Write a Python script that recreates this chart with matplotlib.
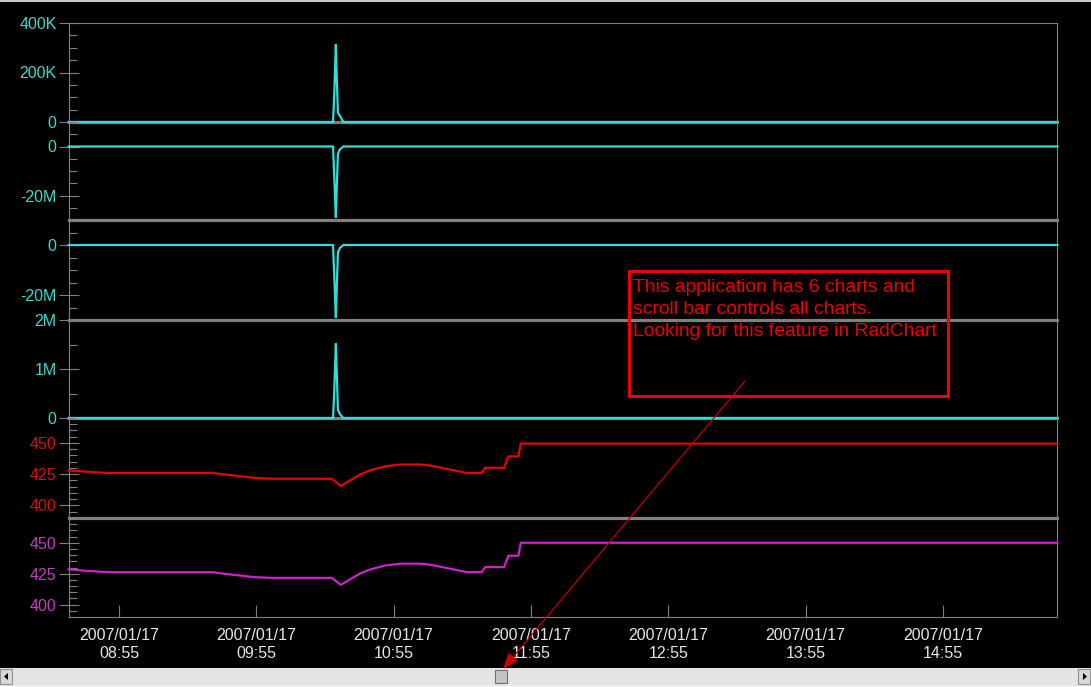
import matplotlib
matplotlib.use("Agg")
import matplotlib.pyplot as plt
import matplotlib.dates as mdates
import matplotlib.ticker as mticker
from matplotlib.patches import Rectangle, FancyArrowPatch, Polygon
from matplotlib.lines import Line2D
from matplotlib.transforms import Affine2D
import pandas as pd

plt.rcParams['font.family'] = ['Liberation Sans', 'DejaVu Sans']

# ---------------- data ----------------
DAY = "2007-01-17 "
x_start = "08:33:09"
x_end = "15:44:50"

spike_times = ["08:33:00", "10:28:30", "10:29:00", "10:29:45", "10:30:10", "10:30:40",
               "10:31:30", "10:33:00", "15:45:00"]
p1_values = [0, 0, 100000, 315000, 170000, 36000, 25000, 0, 0]
p2_values = [0, 0, -11e6, -29.2e6, -16e6, -3e6, -1.2e6, 0, 0]
p3_values = [0, 0, -11e6, -29.2e6, -16e6, -3e6, -1.2e6, 0, 0]
p4_values = [0, 0, 0.5e6, 1.52e6, 0.9e6, 0.16e6, 0.08e6, 0, 0]

trend_times = ["08:33:00", "08:40:00", "08:50:00", "09:36:00", "09:41:00", "09:48:00",
               "09:54:00", "10:02:00", "10:27:57", "10:31:53", "10:33:46", "10:37:24",
               "10:40:30", "10:44:41", "10:51:14", "10:57:48", "11:06:32", "11:10:55",
               "11:26:56", "11:33:30", "11:34:56", "11:43:15", "11:45:08", "11:49:30",
               "11:50:32", "15:45:00"]
red_values = [428.1, 427.1, 426.0, 426.0, 424.8, 423.4, 422.1, 421.4,
              421.4, 415.6, 417.7, 421.6, 425.0, 428.1, 431.3,
              432.8, 432.8, 432.0, 426.0, 426.0, 430.2,
              430.2, 439.3, 439.3, 449.5, 449.5]
magenta_values = [428.6, 427.4, 426.2, 426.2, 424.9, 423.5, 422.2, 421.6,
                  421.6, 416.0, 418.0, 422.0, 425.3, 428.4, 431.6,
                  433.1, 433.1, 432.3, 426.3, 426.3, 430.3,
                  430.3, 439.5, 439.5, 450.0, 450.0]

tick_minute = 55
date_fmt = "%Y/%m/%d\n%H:%M"
annotation_lines = ["This application has 6 charts and",
                    "scroll bar controls all charts.",
                    "Looking for this feature in RadChart"]

CYAN = "#30DCDC"
CYAN_LBL = "#40D8CC"
RED = "#EE0000"
RED_LBL = "#D81010"
MAG = "#D020D0"
MAG_LBL = "#C040C0"
GRAY = "#808080"

def to_dt(ts):
    return pd.to_datetime([DAY + t for t in ts], format="%Y-%m-%d %H:%M:%S")

def fmt_k(v, pos):
    return "0" if abs(v) < 1e-9 else f"{v/1000:g}K"

def fmt_m(v, pos):
    return "0" if abs(v) < 1e-9 else f"{v/1e6:g}M"

def fmt_plain(v, pos):
    return f"{v:g}"

panels = [
    dict(t=spike_times, v=p1_values, c=CYAN, lc=CYAN_LBL, lim=(0, 400000), major=200000, minor=50000, fmt=fmt_k),
    dict(t=spike_times, v=p2_values, c=CYAN, lc=CYAN_LBL, lim=(-30e6, 10e6), major=20e6, minor=5e6, fmt=fmt_m),
    dict(t=spike_times, v=p3_values, c=CYAN, lc=CYAN_LBL, lim=(-30e6, 10e6), major=20e6, minor=5e6, fmt=fmt_m),
    dict(t=spike_times, v=p4_values, c=CYAN, lc=CYAN_LBL, lim=(0, 2e6), major=1e6, minor=0.5e6, fmt=fmt_m),
    dict(t=trend_times, v=red_values, c=RED, lc=RED_LBL, lim=(390, 470), major=25, minor=5, fmt=fmt_plain),
    dict(t=trend_times, v=magenta_values, c=MAG, lc=MAG_LBL, lim=(390, 470), major=25, minor=5, fmt=fmt_plain),
]

# ---------------- layout ----------------
W, H = 1091, 687
fig = plt.figure(figsize=(W / 100, H / 100), dpi=100, facecolor="black")
px = Affine2D().scale(1 / W, -1 / H).translate(0, 1) + fig.transFigure

left_px, right_px = 69, 1057
bounds = [(23, 122), (122, 220), (220, 320), (320, 418), (418, 518), (518, 617)]

x0 = pd.Timestamp(DAY + x_start)
x1 = pd.Timestamp(DAY + x_end)

for i, (p, (ytop, ybot)) in enumerate(zip(panels, bounds)):
    ax = fig.add_axes([left_px / W, 1 - ybot / H, (right_px - left_px) / W, (ybot - ytop) / H])
    ax.set_facecolor("black")
    ax.patch.set_alpha(0)
    ax.plot(to_dt(p["t"]), p["v"], color=p["c"], lw=1.6, clip_on=False, zorder=4,
            solid_joinstyle="miter")
    ax.set_xlim(x0, x1)
    ax.set_ylim(*p["lim"])
    ax.yaxis.set_major_locator(mticker.MultipleLocator(p["major"]))
    ax.yaxis.set_minor_locator(mticker.MultipleLocator(p["minor"]))
    ax.yaxis.set_major_formatter(mticker.FuncFormatter(p["fmt"]))
    ax.tick_params(axis="y", which="major", direction="inout", length=14, width=0.8,
                   color=GRAY, labelcolor=p["lc"], labelsize=11.5, pad=2)
    ax.tick_params(axis="y", which="minor", direction="in", length=6, width=0.8, color=GRAY)
    for s in ["left", "right", "top", "bottom"]:
        ax.spines[s].set_color(GRAY)
        ax.spines[s].set_linewidth(0.8)
    ax.spines["top"].set_visible(i == 0)
    if i < len(panels) - 1:
        ax.spines["bottom"].set_linewidth(2.3)
        ax.tick_params(axis="x", which="both", bottom=False, labelbottom=False)
    else:
        ax.xaxis.set_major_locator(mdates.MinuteLocator(byminute=[tick_minute]))
        ax.xaxis.set_major_formatter(mdates.DateFormatter(date_fmt))
        ax.tick_params(axis="x", which="major", direction="in", length=9, width=0.8,
                       color=GRAY, labelcolor="#E6E6E6", labelsize=11.5, pad=8)
        for lbl in ax.get_xticklabels():
            lbl.set_linespacing(1.25)

# ---------------- annotation ----------------
fig.add_artist(Rectangle((629, 271), 319, 125, transform=px, fill=False,
                         edgecolor="#F00000", lw=2.2))
for k, line in enumerate(annotation_lines):
    fig.text(633 / W, 1 - (292.5 + 21.5 * k) / H, line, color="#EE0000",
             fontsize=13.9, va="baseline", ha="left")
fig.add_artist(FancyArrowPatch((745, 381), (503, 669), transform=px,
                               arrowstyle="-|>,head_length=0.9,head_width=0.35",
                               mutation_scale=11, color="#C80000", lw=0.9,
                               shrinkA=0, shrinkB=0, zorder=10))

# ---------------- window chrome / scrollbar ----------------
fig.add_artist(Line2D([0, W], [0.5, 0.5], transform=px, color="#C8C8C8", lw=1.5))
fig.add_artist(Rectangle((0, 668), W, 19, transform=px, facecolor="#E4E4E4",
                         edgecolor="none", zorder=5))
fig.add_artist(Rectangle((0, 669), 12, 15, transform=px, facecolor="#D8D8D8",
                         edgecolor="#909090", lw=0.8, zorder=6))
fig.add_artist(Polygon([(4, 676.5), (8, 673), (8, 680)], closed=True, transform=px,
                       facecolor="black", edgecolor="none", zorder=7))
fig.add_artist(Rectangle((1078, 669), 12, 15, transform=px, facecolor="#D8D8D8",
                         edgecolor="#909090", lw=0.8, zorder=6))
fig.add_artist(Polygon([(1087, 676.5), (1083, 673), (1083, 680)], closed=True, transform=px,
                       facecolor="black", edgecolor="none", zorder=7))
fig.add_artist(Rectangle((495, 670), 12, 13, transform=px, facecolor="#C4C4C4",
                         edgecolor="#707070", lw=0.8, zorder=6))
fig.add_artist(Line2D([0, W], [686, 686], transform=px, color="#F4F4F4", lw=1, zorder=6))

fig.savefig("out.png", dpi=100, facecolor="black")
